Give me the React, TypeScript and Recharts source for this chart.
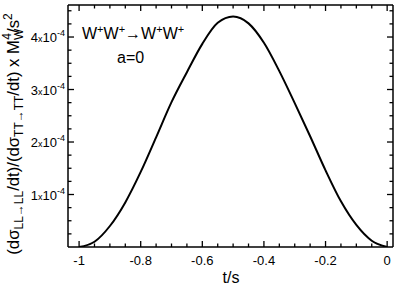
import React from "react";
import { LineChart, Line, XAxis, YAxis, Customized } from "recharts";

// t/s values (x) and the ratio (y)
const tValues = [-1, -0.95, -0.9, -0.85, -0.8, -0.75, -0.7, -0.65, -0.6, -0.55, -0.5, -0.45, -0.4, -0.35, -0.3, -0.25, -0.2, -0.15, -0.1, -0.05, 0];
const ratioValues = [0, 0.10e-4, 0.40e-4, 0.85e-4, 1.43e-4, 2.09e-4, 2.76e-4, 3.33e-4, 3.87e-4, 4.27e-4, 4.39e-4, 4.26e-4, 3.89e-4, 3.35e-4, 2.74e-4, 2.11e-4, 1.46e-4, 0.87e-4, 0.42e-4, 0.12e-4, 0];

const xMajorTicks = [-1, -0.8, -0.6, -0.4, -0.2, 0];
const xTickLabels = ["-1", "-0.8", "-0.6", "-0.4", "-0.2", "0"];
const yMajorTicks = [1e-4, 2e-4, 3e-4, 4e-4];
const yTickMantissas = ["1", "2", "3", "4"];

const xDomain: [number, number] = [-1.036, 0.019];
const yDomain: [number, number] = [0, 4.61e-4];

const xMinorTicks: number[] = [];
for (let i = -20; i <= 0; i++) xMinorTicks.push(i * 0.05);
const yMinorTicks: number[] = [];
for (let i = 1; i <= 18; i++) yMinorTicks.push(i * 0.25e-4);

const data = tValues.map((t, i) => ({ t, r: ratioValues[i] }));

const FONT = "'Liberation Sans', Arial, Helvetica, sans-serif";
const MAJOR = 6;
const MINOR = 3.5;
const AX = { stroke: "#000", strokeWidth: 1.5 };
const TW = 1.3;

const majorIdxX = (v: number) => xMajorTicks.findIndex((m) => Math.abs(m - v) < 1e-6);
const majorIdxY = (v: number) => yMajorTicks.findIndex((m) => Math.abs(m - v) < 1e-9);

const BottomTick = (props: any) => {
  const { x, y, payload } = props;
  const idx = majorIdxX(payload.value);
  const len = idx >= 0 ? MAJOR : MINOR;
  return (
    <g>
      <path d={`M${x},${y}V${y - len}`} stroke="#000" strokeWidth={TW} fill="none" />
      {idx >= 0 && (
        <text x={x} y={y + 18} textAnchor="middle" fontSize={13} fontFamily={FONT} fill="#000" stroke="none">
          {xTickLabels[idx]}
        </text>
      )}
    </g>
  );
};

const TopTick = (props: any) => {
  const { x, y, payload } = props;
  const len = majorIdxX(payload.value) >= 0 ? MAJOR : MINOR;
  return <path d={`M${x},${y}V${y + len}`} stroke="#000" strokeWidth={TW} fill="none" />;
};

const LeftTick = (props: any) => {
  const { x, y, payload } = props;
  const idx = majorIdxY(payload.value);
  const len = idx >= 0 ? MAJOR : MINOR;
  return (
    <g>
      <path d={`M${x},${y}H${x + len}`} stroke="#000" strokeWidth={TW} fill="none" />
      {idx >= 0 && (
        <text x={x - 3} y={y + 5} textAnchor="end" fontFamily={FONT} fill="#000" stroke="none">
          <tspan fontSize={13}>{yTickMantissas[idx]}</tspan>
          <tspan fontSize={9}>x</tspan>
          <tspan fontSize={13}>10</tspan>
          <tspan fontSize={9} dy={-6}>-4</tspan>
        </text>
      )}
    </g>
  );
};

const RightTick = (props: any) => {
  const { x, y, payload } = props;
  const len = majorIdxY(payload.value) >= 0 ? MAJOR : MINOR;
  return <path d={`M${x},${y}H${x - len}`} stroke="#000" strokeWidth={TW} fill="none" />;
};

const YLabel = () => (
  <text
    transform="translate(18.5,134) rotate(-90)"
    textAnchor="middle"
    fontFamily={FONT}
    fontSize={16.7}
    fill="#000"
  >
    <tspan>(dσ</tspan>
    <tspan fontSize={12} dy={4}>LL→LL</tspan>
    <tspan dy={-4}>/dt)/(dσ</tspan>
    <tspan fontSize={12} dy={4}>TT→TT</tspan>
    <tspan dy={-4}>/dt) x M</tspan>
    <tspan fontSize={12} dy={4}>W</tspan>
    <tspan fontSize={12} dx={-11} dy={-12}>4</tspan>
    <tspan dy={8}>/s</tspan>
    <tspan fontSize={12} dy={-7}>2</tspan>
  </text>
);

const Annotation = () => (
  <g fontFamily={FONT} fill="#000">
    <text x={82} y={39} fontSize={16}>
      <tspan>W</tspan>
      <tspan fontSize={11} dy={-6}>+</tspan>
      <tspan dy={6}>W</tspan>
      <tspan fontSize={11} dy={-6}>+</tspan>
      <tspan dy={6}>→W</tspan>
      <tspan fontSize={11} dy={-6}>+</tspan>
      <tspan dy={6}>W</tspan>
      <tspan fontSize={11} dy={-6}>+</tspan>
    </text>
    <text x={117} y={63} fontSize={16}>a=0</text>
    <text x={231} y={283} fontSize={16} textAnchor="middle">t/s</text>
  </g>
);

export default function App() {
  return (
    <div style={{ position: "absolute", left: 0, top: 0, width: 403, height: 288, background: "#fff" }}>
      <LineChart width={403} height={288} data={data} margin={{ top: 4, right: 9, bottom: 0, left: 0 }}>
        <XAxis dataKey="t" type="number" domain={xDomain} allowDataOverflow
          ticks={xMinorTicks} interval={0} height={41} tickLine={false} tickSize={0} tickMargin={0}
          axisLine={AX} tick={<BottomTick />} />
        <XAxis xAxisId="top" dataKey="t" type="number" orientation="top" domain={xDomain} allowDataOverflow
          ticks={xMinorTicks} interval={0} height={1} tickLine={false} tickSize={0} tickMargin={0}
          axisLine={AX} tick={<TopTick />} />
        <YAxis type="number" domain={yDomain} allowDataOverflow
          ticks={yMinorTicks} interval={0} width={68} tickLine={false} tickSize={0} tickMargin={0}
          axisLine={AX} tick={<LeftTick />} />
        <YAxis yAxisId="right" type="number" orientation="right" domain={yDomain} allowDataOverflow
          ticks={yMinorTicks} interval={0} width={1} tickLine={false} tickSize={0} tickMargin={0}
          axisLine={AX} tick={<RightTick />} />
        <Line
          type="monotone"
          dataKey="r"
          stroke="#000"
          strokeWidth={2}
          dot={false}
          isAnimationActive={false}
        />
        <Customized component={YLabel} />
        <Customized component={Annotation} />
      </LineChart>
    </div>
  );
}
